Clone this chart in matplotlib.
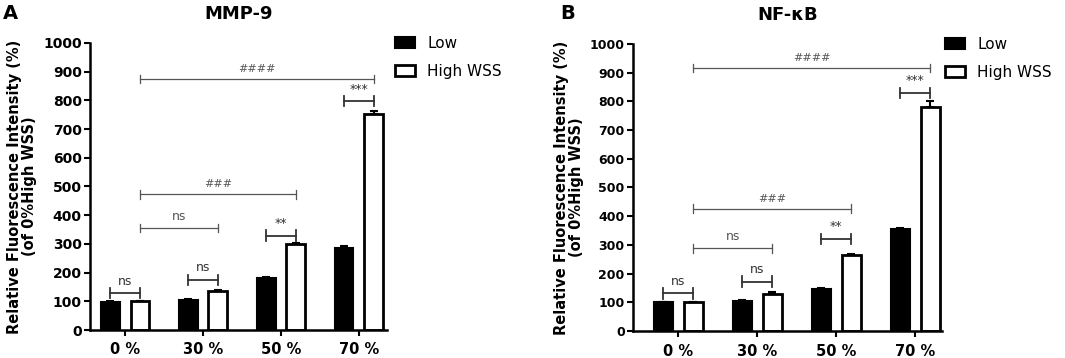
import matplotlib
matplotlib.use("Agg")
import matplotlib.pyplot as plt
from matplotlib.patches import Patch
import numpy as np

categories = ["0 %", "30 %", "50 %", "70 %"]
series_names = ["Low", "High WSS"]

mmp9_low = [97, 105, 182, 287]
mmp9_low_err = [3, 3, 4, 4]
mmp9_high = [100, 137, 298, 752]
mmp9_high_err = [1, 4, 4, 12]

nfkb_low = [100, 105, 147, 355]
nfkb_low_err = [2, 3, 4, 5]
nfkb_high = [100, 130, 265, 780]
nfkb_high_err = [1, 5, 5, 20]

# annotations: (group_a, series_a, group_b, series_b, y, label)
mmp9_ann = [
    (0, 0, 0, 1, 128, "ns"),
    (1, 0, 1, 1, 174, "ns"),
    (2, 0, 2, 1, 329, "**"),
    (3, 0, 3, 1, 797, "***"),
]
mmp9_long = [
    (0, 1, 1, 1, 355, "ns"),
    (0, 1, 2, 1, 473, "###"),
    (0, 1, 3, 1, 874, "####"),
]
nfkb_ann = [
    (0, 0, 0, 1, 131, "ns"),
    (1, 0, 1, 1, 172, "ns"),
    (2, 0, 2, 1, 320, "**"),
    (3, 0, 3, 1, 829, "***"),
]
nfkb_long = [
    (0, 1, 1, 1, 288, "ns"),
    (0, 1, 2, 1, 426, "###"),
    (0, 1, 3, 1, 916, "####"),
]

plt.rcParams['font.family'] = ['DejaVu Sans']

fig = plt.figure(figsize=(10.65, 3.58), dpi=100)
axA = fig.add_axes([90 / 1065, 28 / 358, 297 / 1065, 287 / 358])
axB = fig.add_axes([633 / 1065, 27 / 358, 309 / 1065, 287 / 358])

width = 0.24
offset = 0.19


def draw(ax, low, low_err, high, high_err, ann, long_ann, title, xlim, ytick_fs, leg_x):
    x = np.arange(len(categories))
    ax.bar(x - offset, low, width, color="black", edgecolor="black", linewidth=1.5,
           yerr=[[0] * len(low), low_err], error_kw=dict(ecolor="black", elinewidth=1.5, capsize=3, capthick=1.5))
    ax.bar(x + offset, high, width, color="white", edgecolor="black", linewidth=2,
           yerr=[[0] * len(high), high_err], error_kw=dict(ecolor="black", elinewidth=1.5, capsize=3, capthick=1.5))
    pos = lambda g, s: g + (offset if s == 1 else -offset)
    for ga, sa, gb, sb, y, lab in ann:
        x1, x2 = pos(ga, sa), pos(gb, sb)
        ax.plot([x1, x2], [y, y], color="#333333", lw=1.3)
        for xx in (x1, x2):
            ax.plot([xx, xx], [y - 18, y + 18], color="#333333", lw=1.3)
        ax.text((x1 + x2) / 2, y + 20, lab, ha="center", va="bottom", fontsize=9, color="#333333")
    for ga, sa, gb, sb, y, lab in long_ann:
        x1, x2 = pos(ga, sa), pos(gb, sb)
        ax.plot([x1, x2], [y, y], color="#555555", lw=0.9)
        for xx in (x1, x2):
            ax.plot([xx, xx], [y - 15, y + 15], color="#555555", lw=0.9)
        ax.text((x1 + x2) / 2, y + 18, lab, ha="center", va="bottom",
                fontsize=9 if lab == "ns" else 8, color="#555555")
    ax.set_xlim(*xlim)
    ax.set_ylim(0, 1000)
    ax.set_yticks(range(0, 1001, 100))
    ax.set_xticks(x)
    ax.set_xticklabels(categories, fontsize=10.5, fontweight="bold")
    for lab in ax.get_yticklabels():
        lab.set_fontweight("bold")
        lab.set_fontsize(ytick_fs)
    ax.spines["top"].set_visible(False)
    ax.spines["right"].set_visible(False)
    ax.spines["left"].set_linewidth(1.8)
    ax.spines["bottom"].set_linewidth(1.8)
    ax.tick_params(axis="y", width=1.5, length=4, pad=2)
    ax.tick_params(axis="x", width=1.5, length=4, pad=5)
    ax.set_ylabel("Relative Fluorescence Intensity (%)\n(of 0%High WSS)", fontsize=10.5,
                  fontweight="bold", linespacing=1.0, labelpad=4)
    handles = [Patch(facecolor="black", edgecolor="black", lw=1.5, label=series_names[0]),
               Patch(facecolor="white", edgecolor="black", lw=2, label=series_names[1])]
    ax.legend(handles=handles, loc="upper left", bbox_to_anchor=(leg_x, 1.025), frameon=False,
              fontsize=11, handlelength=1.3, handleheight=0.7, labelspacing=0.85,
              handletextpad=0.8, borderaxespad=0, borderpad=0)
    ax.set_title(title, fontsize=13, fontweight="bold", pad=17)


draw(axA, mmp9_low, mmp9_low_err, mmp9_high, mmp9_high_err, mmp9_ann, mmp9_long, "MMP-9",
     (-0.45, 3.36), 10, 1.027)
draw(axB, nfkb_low, nfkb_low_err, nfkb_high, nfkb_high_err, nfkb_ann, nfkb_long, "NF-κB",
     (-0.57, 3.34), 9, 1.01)

fig.text(0.003, 0.99, "A", fontsize=14, fontweight="bold", va="top", ha="left")
fig.text(0.526, 0.99, "B", fontsize=14, fontweight="bold", va="top", ha="left")

fig.savefig("out.png", dpi=100)
